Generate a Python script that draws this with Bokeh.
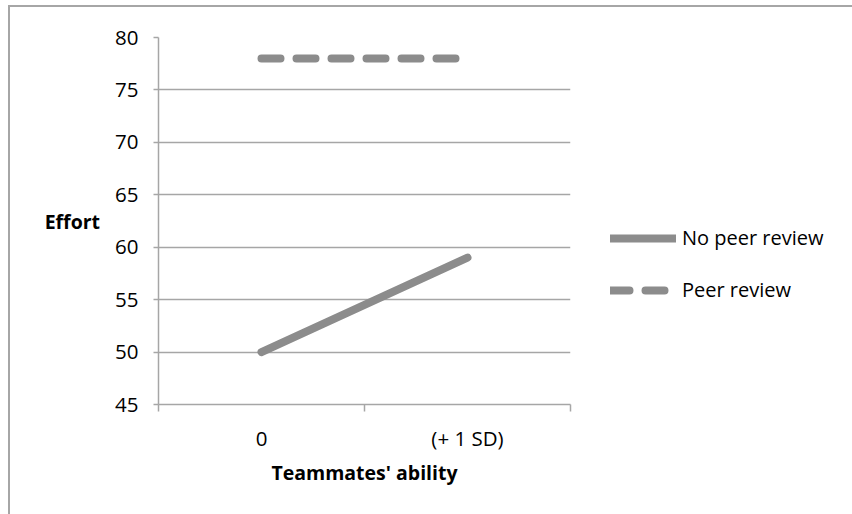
from bokeh.plotting import figure
from bokeh.models import FixedTicker, Legend, LegendItem
from bokeh.embed import file_html
from bokeh.resources import INLINE

categories = ["0", "(+ 1 SD)"]
no_peer_review = [50, 59]
peer_review = [78, 78]
y_ticks = [45, 50, 55, 60, 65, 70, 75, 80]

FONT = "Open Sans"
GRID = "#a6a6a6"
LINE = "#8c8c8c"

xs = [i + 0.5 for i in range(len(categories))]

# page offset of the figure (outer border drawn with CSS)
OX, OY = 10, 7

p = figure(frame_width=412, frame_height=367, output_backend="svg", toolbar_location=None,
           x_range=(0, len(categories)), y_range=(45, 80),
           min_border_left=158 - OX, min_border_right=270, min_border_top=37 - OY,
           min_border_bottom=110)
p.styles = {"border-left": "2px solid #a6a6a6", "border-top": "2px solid #a6a6a6",
            "margin-left": "8px", "margin-top": "5px"}
p.outline_line_color = None
p.background_fill_color = "white"
p.border_fill_color = "white"

r1 = p.line(xs, no_peer_review, line_color=LINE, line_width=8, line_cap="round")
r2 = p.line(xs, peer_review, line_color=LINE, line_width=8, line_cap="round",
            line_dash="19 16")

# x axis
xa = p.xaxis[0]
xa.ticker = FixedTicker(ticks=xs, minor_ticks=list(range(len(categories) + 1)))
xa.major_label_overrides = {x: c for x, c in zip(xs, categories)}
xa.major_tick_out = 0
xa.major_tick_in = 0
xa.minor_tick_out = 7
xa.minor_tick_in = 0
xa.minor_tick_line_color = GRID
xa.minor_tick_line_width = 1.5
xa.axis_line_color = GRID
xa.axis_line_width = 1.5
xa.major_label_standoff = 12
xa.major_label_text_font = FONT
xa.major_label_text_font_size = "20.5px"
xa.major_label_text_color = "#000000"
xa.axis_label = "Teammates' ability"
xa.axis_label_text_font = FONT
xa.axis_label_text_font_style = "bold"
xa.axis_label_text_font_size = "19.5px"
xa.axis_label_text_color = "#000000"
xa.axis_label_standoff = 4

# y axis
ya = p.yaxis[0]
ya.ticker = FixedTicker(ticks=y_ticks)
ya.major_tick_out = 5
ya.major_tick_in = 0
ya.major_tick_line_color = GRID
ya.major_tick_line_width = 1.5
ya.minor_tick_line_color = None
ya.axis_line_color = GRID
ya.axis_line_width = 1.5
ya.major_label_standoff = 15
ya.major_label_text_font = FONT
ya.major_label_text_font_size = "20.5px"
ya.major_label_text_color = "#000000"
ya.axis_label = "Effort"
ya.axis_label_orientation = "horizontal"
ya.axis_label_text_font = FONT
ya.axis_label_text_font_style = "bold"
ya.axis_label_text_font_size = "19.5px"
ya.axis_label_text_color = "#000000"
ya.axis_label_standoff = 12

p.xgrid.grid_line_color = None
p.ygrid.grid_line_color = GRID
p.ygrid.grid_line_width = 1.5

legend = Legend(items=[LegendItem(label="No peer review", renderers=[r1]),
                       LegendItem(label="Peer review", renderers=[r2])],
                location=(40, 101), orientation="vertical",
                padding=0, margin=0, spacing=25,
                glyph_width=66, glyph_height=20, label_height=20,
                label_standoff=6, border_line_color=None,
                background_fill_alpha=0,
                label_text_font=FONT, label_text_font_size="20px",
                label_text_color="#000000")
p.add_layout(legend, "right")

open("out.html", "w").write(file_html(p, INLINE))
